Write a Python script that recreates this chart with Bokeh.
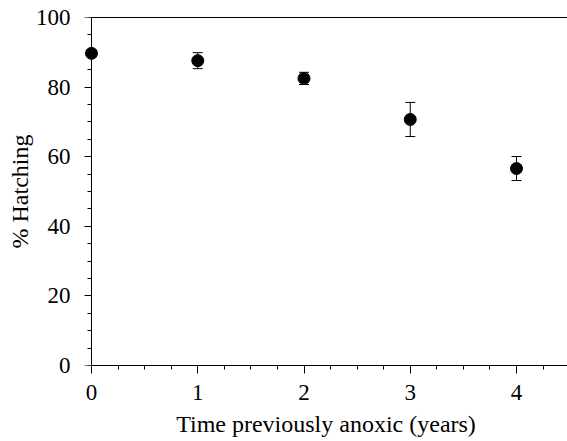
from bokeh.plotting import figure
from bokeh.models import (ColumnDataSource, Whisker, TeeHead, LinearAxis, FixedTicker,
                          Range1d, SingleIntervalTicker)
from bokeh.embed import file_html
from bokeh.resources import INLINE

# Data
years = [0, 1, 2, 3, 4]
hatching = [89.7, 87.6, 82.5, 70.7, 56.6]
error = [1.0, 2.3, 1.75, 4.9, 3.45]

x_ticks = [0, 1, 2, 3, 4]
y_ticks = [0, 20, 40, 60, 80, 100]
y_minor_ticks = [0, 5, 10, 15, 20, 25, 30, 35, 40, 45, 50,
                 55, 60, 65, 70, 75, 80, 85, 90, 95, 100]

FONT = "Liberation Serif"

src = ColumnDataSource(dict(
    x=years, y=hatching,
    upper=[h + e for h, e in zip(hatching, error)],
    lower=[h - e for h, e in zip(hatching, error)],
))

p = figure(width=567, height=441, output_backend="svg", toolbar_location=None,
           x_range=Range1d(-0.0659, 4.48), y_range=Range1d(0, 100),
           min_border_left=84, min_border_right=0, min_border_top=17, min_border_bottom=76)
p.outline_line_color = None
p.xgrid.visible = False
p.ygrid.visible = False
p.background_fill_color = "white"
p.border_fill_color = "white"

w = Whisker(source=src, base="x", upper="upper", lower="lower",
            line_color="black", line_width=1,
            upper_head=TeeHead(size=10, line_color="black", line_width=1),
            lower_head=TeeHead(size=10, line_color="black", line_width=1))
p.add_layout(w)
p.scatter("x", "y", source=src, size=12, fill_color="black", line_color="black")

xa = p.xaxis[0]
xa.ticker = SingleIntervalTicker(interval=1, num_minor_ticks=4)
xa.axis_label = "Time previously anoxic (years)"
xa.bounds = (0, 10)
ya = p.yaxis[0]
ya.ticker = FixedTicker(ticks=y_ticks)
ya.axis_label = "% Hatching"

for ax in (xa, ya):
    ax.axis_line_color = "black"
    ax.major_tick_line_color = "black"
    ax.minor_tick_line_color = "black"
    ax.major_tick_in = 0
    ax.major_tick_out = 8
    ax.minor_tick_in = 0
    ax.minor_tick_out = 4
    ax.major_label_text_font = FONT
    ax.major_label_text_font_size = "23px"
    ax.major_label_text_color = "black"
    ax.axis_label_text_font = FONT
    ax.axis_label_text_font_size = "24px"
    ax.axis_label_text_font_style = "normal"
    ax.axis_label_text_color = "black"

xa.major_label_standoff = 11
xa.axis_label_standoff = 8

# left axis: labels only (line and ticks drawn by the axes fixed at x=0)
ya.axis_line_color = None
ya.major_tick_line_color = None
ya.minor_tick_line_color = None
ya.major_label_standoff = 6
ya.axis_label_standoff = 0

# axis line and ticks at x = 0 (ticks drawn as label-free minor ticks)
y0_minor = LinearAxis(ticker=FixedTicker(ticks=[], minor_ticks=y_minor_ticks),
                      fixed_location=0, axis_line_color="black",
                      minor_tick_line_color="black",
                      minor_tick_in=4, minor_tick_out=0,
                      major_tick_in=0, major_tick_out=0, major_label_standoff=0)
p.add_layout(y0_minor, "right")
y0_major = LinearAxis(ticker=FixedTicker(ticks=[], minor_ticks=y_ticks),
                      fixed_location=0, axis_line_color="black",
                      minor_tick_line_color="black",
                      minor_tick_in=8, minor_tick_out=0,
                      major_tick_in=0, major_tick_out=0, major_label_standoff=0)
p.add_layout(y0_major, "right")

top = LinearAxis(ticker=FixedTicker(ticks=[]), major_tick_out=0, minor_tick_out=0,
                 axis_line_color="black", bounds=(0, 10))
p.add_layout(top, "above")

open("out.html", "w").write(file_html(p, INLINE))
